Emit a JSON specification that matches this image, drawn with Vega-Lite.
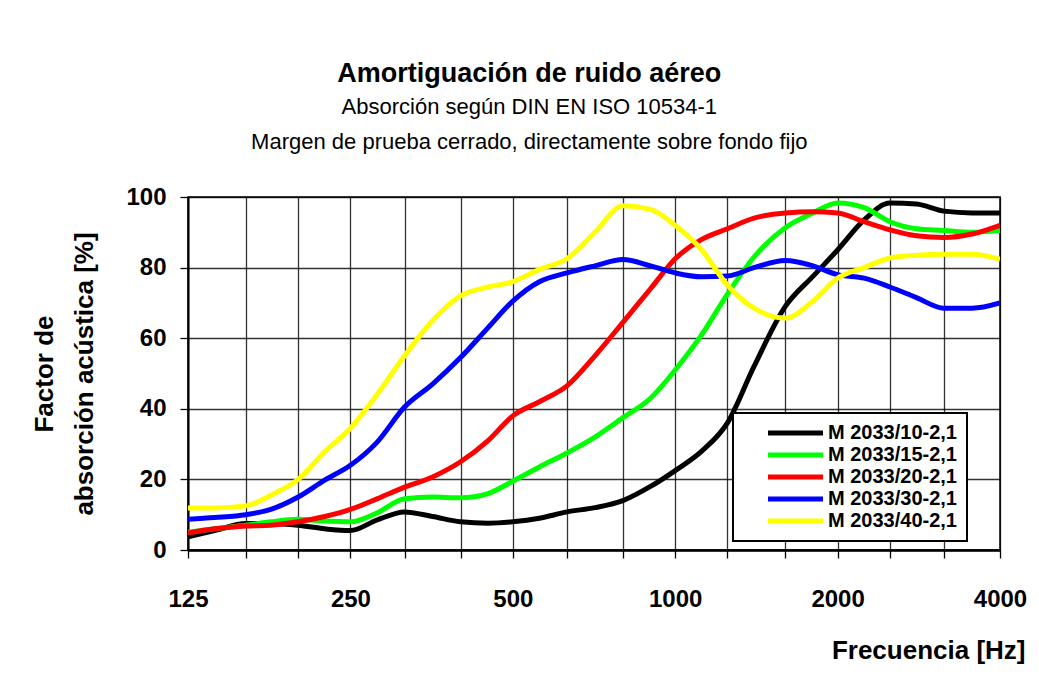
{
  "$schema": "https://vega.github.io/schema/vega-lite/v6.json",
  "autosize": "none",
  "width": 812,
  "height": 353,
  "padding": {"left": 188, "top": 197, "right": 39, "bottom": 134},
  "background": "white",
  "title": {
    "text": "Amortiguación de ruido aéreo",
    "subtitle": ["Absorción según DIN EN ISO 10534-1", "Margen de prueba cerrado, directamente sobre fondo fijo"],
    "frame": "bounds",
    "anchor": "middle",
    "font": "Liberation Sans",
    "fontSize": 27,
    "fontWeight": "bold",
    "color": "#000",
    "subtitleFont": "Liberation Sans",
    "subtitleFontSize": 22,
    "subtitleColor": "#000",
    "subtitleLineHeight": 35,
    "subtitlePadding": 9,
    "offset": 31
  },
  "data": {
    "values": [
      {"serie": "M 2033/10-2,1", "f": 125, "a": 3.7}, {"serie": "M 2033/10-2,1", "f": 140, "a": 5.5}, {"serie": "M 2033/10-2,1", "f": 160, "a": 7.5}, {"serie": "M 2033/10-2,1", "f": 178, "a": 7.5}, {"serie": "M 2033/10-2,1", "f": 200, "a": 7}, {"serie": "M 2033/10-2,1", "f": 224, "a": 6}, {"serie": "M 2033/10-2,1", "f": 250, "a": 5.5}, {"serie": "M 2033/10-2,1", "f": 280, "a": 8.5}, {"serie": "M 2033/10-2,1", "f": 315, "a": 10.8}, {"serie": "M 2033/10-2,1", "f": 355, "a": 9.5}, {"serie": "M 2033/10-2,1", "f": 400, "a": 8}, {"serie": "M 2033/10-2,1", "f": 450, "a": 7.6}, {"serie": "M 2033/10-2,1", "f": 500, "a": 8}, {"serie": "M 2033/10-2,1", "f": 560, "a": 9}, {"serie": "M 2033/10-2,1", "f": 630, "a": 10.8}, {"serie": "M 2033/10-2,1", "f": 710, "a": 12}, {"serie": "M 2033/10-2,1", "f": 800, "a": 14}, {"serie": "M 2033/10-2,1", "f": 900, "a": 18}, {"serie": "M 2033/10-2,1", "f": 1000, "a": 22.5}, {"serie": "M 2033/10-2,1", "f": 1120, "a": 28}, {"serie": "M 2033/10-2,1", "f": 1250, "a": 36}, {"serie": "M 2033/10-2,1", "f": 1400, "a": 52}, {"serie": "M 2033/10-2,1", "f": 1600, "a": 69}, {"serie": "M 2033/10-2,1", "f": 1800, "a": 77.5}, {"serie": "M 2033/10-2,1", "f": 2000, "a": 85}, {"serie": "M 2033/10-2,1", "f": 2240, "a": 93.5}, {"serie": "M 2033/10-2,1", "f": 2500, "a": 98.3}, {"serie": "M 2033/10-2,1", "f": 2800, "a": 98}, {"serie": "M 2033/10-2,1", "f": 3150, "a": 96}, {"serie": "M 2033/10-2,1", "f": 3550, "a": 95.5}, {"serie": "M 2033/10-2,1", "f": 4000, "a": 95.5},
      {"serie": "M 2033/15-2,1", "f": 125, "a": 5}, {"serie": "M 2033/15-2,1", "f": 140, "a": 6}, {"serie": "M 2033/15-2,1", "f": 160, "a": 7}, {"serie": "M 2033/15-2,1", "f": 178, "a": 8}, {"serie": "M 2033/15-2,1", "f": 200, "a": 8.7}, {"serie": "M 2033/15-2,1", "f": 224, "a": 8.2}, {"serie": "M 2033/15-2,1", "f": 250, "a": 8}, {"serie": "M 2033/15-2,1", "f": 280, "a": 10.5}, {"serie": "M 2033/15-2,1", "f": 315, "a": 14.5}, {"serie": "M 2033/15-2,1", "f": 355, "a": 15}, {"serie": "M 2033/15-2,1", "f": 400, "a": 14.8}, {"serie": "M 2033/15-2,1", "f": 450, "a": 16}, {"serie": "M 2033/15-2,1", "f": 500, "a": 19.5}, {"serie": "M 2033/15-2,1", "f": 560, "a": 23.5}, {"serie": "M 2033/15-2,1", "f": 630, "a": 27.5}, {"serie": "M 2033/15-2,1", "f": 710, "a": 32}, {"serie": "M 2033/15-2,1", "f": 800, "a": 37.5}, {"serie": "M 2033/15-2,1", "f": 900, "a": 43}, {"serie": "M 2033/15-2,1", "f": 1000, "a": 51}, {"serie": "M 2033/15-2,1", "f": 1120, "a": 61}, {"serie": "M 2033/15-2,1", "f": 1250, "a": 72.5}, {"serie": "M 2033/15-2,1", "f": 1400, "a": 83}, {"serie": "M 2033/15-2,1", "f": 1600, "a": 91.3}, {"serie": "M 2033/15-2,1", "f": 1800, "a": 95.5}, {"serie": "M 2033/15-2,1", "f": 2000, "a": 98.3}, {"serie": "M 2033/15-2,1", "f": 2240, "a": 97}, {"serie": "M 2033/15-2,1", "f": 2500, "a": 93}, {"serie": "M 2033/15-2,1", "f": 2800, "a": 91}, {"serie": "M 2033/15-2,1", "f": 3150, "a": 90.5}, {"serie": "M 2033/15-2,1", "f": 3550, "a": 90}, {"serie": "M 2033/15-2,1", "f": 4000, "a": 90.5},
      {"serie": "M 2033/20-2,1", "f": 125, "a": 4.8}, {"serie": "M 2033/20-2,1", "f": 140, "a": 6}, {"serie": "M 2033/20-2,1", "f": 160, "a": 6.8}, {"serie": "M 2033/20-2,1", "f": 178, "a": 7}, {"serie": "M 2033/20-2,1", "f": 200, "a": 8}, {"serie": "M 2033/20-2,1", "f": 224, "a": 9.5}, {"serie": "M 2033/20-2,1", "f": 250, "a": 11.5}, {"serie": "M 2033/20-2,1", "f": 280, "a": 14.5}, {"serie": "M 2033/20-2,1", "f": 315, "a": 17.8}, {"serie": "M 2033/20-2,1", "f": 355, "a": 20.7}, {"serie": "M 2033/20-2,1", "f": 400, "a": 25}, {"serie": "M 2033/20-2,1", "f": 450, "a": 31}, {"serie": "M 2033/20-2,1", "f": 500, "a": 38}, {"serie": "M 2033/20-2,1", "f": 560, "a": 42}, {"serie": "M 2033/20-2,1", "f": 630, "a": 46.5}, {"serie": "M 2033/20-2,1", "f": 710, "a": 55}, {"serie": "M 2033/20-2,1", "f": 800, "a": 64.5}, {"serie": "M 2033/20-2,1", "f": 900, "a": 74}, {"serie": "M 2033/20-2,1", "f": 1000, "a": 82.5}, {"serie": "M 2033/20-2,1", "f": 1120, "a": 88}, {"serie": "M 2033/20-2,1", "f": 1250, "a": 91}, {"serie": "M 2033/20-2,1", "f": 1400, "a": 94}, {"serie": "M 2033/20-2,1", "f": 1600, "a": 95.5}, {"serie": "M 2033/20-2,1", "f": 1800, "a": 95.8}, {"serie": "M 2033/20-2,1", "f": 2000, "a": 95.5}, {"serie": "M 2033/20-2,1", "f": 2240, "a": 93}, {"serie": "M 2033/20-2,1", "f": 2500, "a": 90.7}, {"serie": "M 2033/20-2,1", "f": 2800, "a": 89}, {"serie": "M 2033/20-2,1", "f": 3150, "a": 88.5}, {"serie": "M 2033/20-2,1", "f": 3550, "a": 89.5}, {"serie": "M 2033/20-2,1", "f": 4000, "a": 92},
      {"serie": "M 2033/30-2,1", "f": 125, "a": 8.7}, {"serie": "M 2033/30-2,1", "f": 140, "a": 9.2}, {"serie": "M 2033/30-2,1", "f": 160, "a": 10}, {"serie": "M 2033/30-2,1", "f": 178, "a": 11.5}, {"serie": "M 2033/30-2,1", "f": 200, "a": 15}, {"serie": "M 2033/30-2,1", "f": 224, "a": 19.8}, {"serie": "M 2033/30-2,1", "f": 250, "a": 24}, {"serie": "M 2033/30-2,1", "f": 280, "a": 30.5}, {"serie": "M 2033/30-2,1", "f": 315, "a": 40.5}, {"serie": "M 2033/30-2,1", "f": 355, "a": 47}, {"serie": "M 2033/30-2,1", "f": 400, "a": 54.5}, {"serie": "M 2033/30-2,1", "f": 450, "a": 63}, {"serie": "M 2033/30-2,1", "f": 500, "a": 70.5}, {"serie": "M 2033/30-2,1", "f": 560, "a": 76}, {"serie": "M 2033/30-2,1", "f": 630, "a": 78.5}, {"serie": "M 2033/30-2,1", "f": 710, "a": 80.5}, {"serie": "M 2033/30-2,1", "f": 800, "a": 82.3}, {"serie": "M 2033/30-2,1", "f": 900, "a": 80.5}, {"serie": "M 2033/30-2,1", "f": 1000, "a": 78.5}, {"serie": "M 2033/30-2,1", "f": 1120, "a": 77.4}, {"serie": "M 2033/30-2,1", "f": 1250, "a": 77.6}, {"serie": "M 2033/30-2,1", "f": 1400, "a": 80}, {"serie": "M 2033/30-2,1", "f": 1600, "a": 82}, {"serie": "M 2033/30-2,1", "f": 1800, "a": 80.5}, {"serie": "M 2033/30-2,1", "f": 2000, "a": 78}, {"serie": "M 2033/30-2,1", "f": 2240, "a": 77}, {"serie": "M 2033/30-2,1", "f": 2500, "a": 74.5}, {"serie": "M 2033/30-2,1", "f": 2800, "a": 71.5}, {"serie": "M 2033/30-2,1", "f": 3150, "a": 68.5}, {"serie": "M 2033/30-2,1", "f": 3550, "a": 68.5}, {"serie": "M 2033/30-2,1", "f": 4000, "a": 70},
      {"serie": "M 2033/40-2,1", "f": 125, "a": 11.9}, {"serie": "M 2033/40-2,1", "f": 140, "a": 11.9}, {"serie": "M 2033/40-2,1", "f": 160, "a": 12.5}, {"serie": "M 2033/40-2,1", "f": 178, "a": 15.5}, {"serie": "M 2033/40-2,1", "f": 200, "a": 20}, {"serie": "M 2033/40-2,1", "f": 224, "a": 27.8}, {"serie": "M 2033/40-2,1", "f": 250, "a": 34.5}, {"serie": "M 2033/40-2,1", "f": 280, "a": 44}, {"serie": "M 2033/40-2,1", "f": 315, "a": 55}, {"serie": "M 2033/40-2,1", "f": 355, "a": 65}, {"serie": "M 2033/40-2,1", "f": 400, "a": 72}, {"serie": "M 2033/40-2,1", "f": 450, "a": 74.5}, {"serie": "M 2033/40-2,1", "f": 500, "a": 76}, {"serie": "M 2033/40-2,1", "f": 560, "a": 79.5}, {"serie": "M 2033/40-2,1", "f": 630, "a": 82.5}, {"serie": "M 2033/40-2,1", "f": 710, "a": 90}, {"serie": "M 2033/40-2,1", "f": 800, "a": 97.5}, {"serie": "M 2033/40-2,1", "f": 900, "a": 96.5}, {"serie": "M 2033/40-2,1", "f": 1000, "a": 92}, {"serie": "M 2033/40-2,1", "f": 1120, "a": 85}, {"serie": "M 2033/40-2,1", "f": 1250, "a": 75}, {"serie": "M 2033/40-2,1", "f": 1400, "a": 68.5}, {"serie": "M 2033/40-2,1", "f": 1600, "a": 65.7}, {"serie": "M 2033/40-2,1", "f": 1800, "a": 70.5}, {"serie": "M 2033/40-2,1", "f": 2000, "a": 77}, {"serie": "M 2033/40-2,1", "f": 2240, "a": 80}, {"serie": "M 2033/40-2,1", "f": 2500, "a": 82.7}, {"serie": "M 2033/40-2,1", "f": 2800, "a": 83.5}, {"serie": "M 2033/40-2,1", "f": 3150, "a": 83.8}, {"serie": "M 2033/40-2,1", "f": 3550, "a": 83.8}, {"serie": "M 2033/40-2,1", "f": 4000, "a": 82.4}
    ]
  },
  "mark": {"type": "line", "strokeWidth": 5, "interpolate": "monotone", "clip": true},
  "encoding": {
    "x": {
      "field": "f",
      "type": "quantitative",
      "scale": {"type": "log", "domain": [125, 4000], "nice": false},
      "axis": {
        "values": [125, 160, 200, 250, 315, 400, 500, 630, 800, 1000, 1250, 1600, 2000, 2500, 3150, 4000],
        "labelExpr": "indexof([125,250,500,1000,2000,4000], datum.value) >= 0 ? '' + datum.value : ''",
        "labelOverlap": false,
        "labelFlush": false,
        "labelPadding": 29,
        "tickSize": 8,
        "tickWidth": 1.3,
        "domainWidth": 2.5,
        "title": "Frecuencia [Hz]",
        "titleAnchor": "end",
        "titleAlign": "right",
        "titleBaseline": "alphabetic",
        "titleX": 837,
        "titleY": 108,
        "titleFontSize": 26,
        "titleFontWeight": "bold"
      }
    },
    "y": {
      "field": "a",
      "type": "quantitative",
      "scale": {"domain": [0, 100], "nice": false},
      "axis": {
        "values": [0, 20, 40, 60, 80, 100],
        "tickSize": 8,
        "tickWidth": 1.3,
        "domainWidth": 2,
        "labelPadding": 14,
        "title": ["Factor de", "absorción acústica [%]"],
        "titleFontSize": 26,
        "titleFontWeight": "bold",
        "titleLineHeight": 40,
        "titlePadding": 28
      }
    },
    "color": {
      "field": "serie",
      "type": "nominal",
      "scale": {
        "domain": ["M 2033/10-2,1", "M 2033/15-2,1", "M 2033/20-2,1", "M 2033/30-2,1", "M 2033/40-2,1"],
        "range": ["#000000", "#00ff00", "#ff0000", "#0000ff", "#ffff00"]
      },
      "legend": {
        "title": null,
        "orient": "none",
        "legendX": 545,
        "legendY": 216,
        "fillColor": "white",
        "strokeColor": "black",
        "padding": 10,
        "symbolType": "M -1 0 H 10",
        "symbolSize": 100,
        "symbolStrokeWidth": 5,
        "symbolOffset": 20,
        "labelFont": "Liberation Sans",
        "labelFontSize": 20,
        "labelFontWeight": "bold",
        "labelColor": "#000",
        "labelOffset": 45,
        "labelLimit": 300,
        "rowPadding": 2,
        "encode": {"legend": {"update": {"strokeWidth": {"value": 2}}}}
      }
    }
  },
  "config": {
    "font": "Liberation Sans",
    "view": {"stroke": "#000", "strokeWidth": 1.5},
    "axis": {
      "grid": true,
      "gridColor": "#000",
      "gridOpacity": 0.8,
      "gridWidth": 1.3,
      "domainColor": "#000",
      "tickColor": "#000",
      "labelFont": "Liberation Sans",
      "labelFontSize": 24,
      "labelFontWeight": "bold",
      "labelColor": "#000",
      "titleFont": "Liberation Sans",
      "titleColor": "#000"
    }
  }
}
